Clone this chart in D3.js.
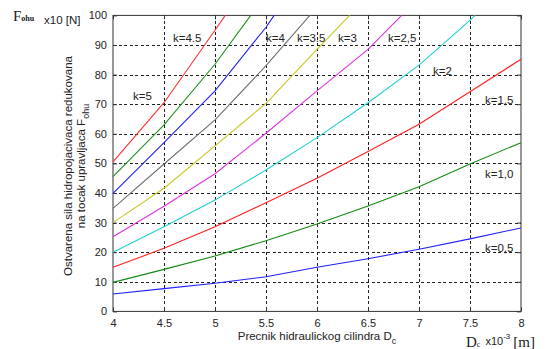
<!DOCTYPE html>
<html>
<head>
<meta charset="utf-8">
<script src="https://cdn.jsdelivr.net/npm/d3@7"></script>
<style>
  body { margin: 0; background: #fff; }
  text { font-family: "Liberation Sans", Arial, sans-serif; fill: #222; }
  .serif { font-family: "Liberation Serif", "Times New Roman", serif; }
</style>
</head>
<body>
<div id="chart"></div>
<script>
// values (D x10^-3 m, F x10 N)
const xTicks = [4, 4.5, 5, 5.5, 6, 6.5, 7, 7.5, 8];
const yTicks = [0, 10, 20, 30, 40, 50, 60, 70, 80, 90, 100];

const dcFull = [4, 4.5, 5, 5.5, 6, 6.5, 7, 7.5, 8];
const fK05 = [5.9, 7.7, 9.5, 11.7, 14.9, 17.8, 21.0, 24.5, 28.2];
const fK10 = [9.8, 14.2, 18.7, 23.9, 29.5, 35.6, 42.1, 49.8, 57.0];
const fK15 = [14.9, 21.3, 28.6, 36.7, 45.0, 54.0, 63.2, 74.2, 85.2];

const dcK2 = [4, 4.5, 5, 5.5, 6, 6.5, 7, 7.5, 7.55];
const fK2 = [20.0, 28.6, 37.6, 47.8, 58.7, 70.5, 83.2, 98.3, 100];

const dcK25 = [4, 4.5, 5, 5.5, 6, 6.5, 6.83];
const fK25 = [25.2, 35.5, 46.5, 60.2, 74.5, 88.5, 100];

const dcK3 = [4, 4.5, 5, 5.5, 6, 6.32];
const fK3 = [30.0, 41.6, 55.9, 70.3, 88.5, 100];

const dcK35 = [4, 4.5, 5, 5.5, 5.93];
const fK35 = [34.8, 49.8, 64.7, 83.0, 100];

const dcK4 = [4, 4.5, 5, 5.5, 5.58];
const fK4 = [39.9, 57.0, 74.5, 96.0, 100];

const dcK45 = [4, 4.5, 5, 5.35];
const fK45 = [45.5, 63.0, 83.5, 100];

const dcK5 = [4, 4.5, 5, 5.1];
const fK5 = [50.5, 70.5, 95.0, 100];

const curves = [
    { x: dcFull, y: fK05, color: "#2020ff" },
    { x: dcFull, y: fK10, color: "#138a13" },
    { x: dcFull, y: fK15, color: "#ff2020" },
    { x: dcK2, y: fK2, color: "#20d0d0" },
    { x: dcK25, y: fK25, color: "#e030e0" },
    { x: dcK3, y: fK3, color: "#c8c820" },
    { x: dcK35, y: fK35, color: "#707070" },
    { x: dcK4, y: fK4, color: "#2020ff" },
    { x: dcK45, y: fK45, color: "#209020" },
    { x: dcK5, y: fK5, color: "#ff3030" },
];

// curve labels, placed in data coordinates
const labelText = ["k=5", "k=4.5", "k=4", "k=3.5", "k=3", "k=2,5", "k=2", "k=1,5", "k=1,0", "k=0,5"];
const labelDc = [4.196, 4.588, 5.5, 5.804, 6.206, 6.696, 7.137, 7.647, 7.647, 7.647];
const labelF = [71.4, 91.0, 91.0, 91.0, 91.0, 91.0, 79.9, 70.1, 45.1, 20.1];

const width = 547, height = 349;
const x = d3.scaleLinear().domain([4, 8]).range([113, 521]);
const y = d3.scaleLinear().domain([0, 100]).range([311.4, 15.4]);

const svg = d3.select("#chart").append("svg")
    .attr("width", width).attr("height", height)
    .attr("viewBox", [0, 0, width, height]);

// grid
const grid = svg.append("g")
    .attr("stroke", "#222")
    .attr("stroke-width", 1)
    .attr("stroke-dasharray", "3,2.5")
    .attr("shape-rendering", "crispEdges");
grid.selectAll("line.v").data(xTicks.slice(1, -1)).join("line")
    .attr("x1", d => Math.round(x(d)) + 0.5).attr("x2", d => Math.round(x(d)) + 0.5)
    .attr("y1", y(100)).attr("y2", y(0));
grid.selectAll("line.h").data(yTicks.slice(1, -1)).join("line")
    .attr("class", "h")
    .attr("x1", x(4)).attr("x2", x(8))
    .attr("y1", d => Math.round(y(d)) + 0.5).attr("y2", d => Math.round(y(d)) + 0.5);

// axes (ticks inward on all sides)
const tickLen = 4;
svg.append("g").attr("transform", `translate(0,${y(0)})`)
    .call(d3.axisBottom(x).tickValues(xTicks).tickSize(-tickLen).tickPadding(8).tickFormat(d3.format("")))
    .call(g => g.select(".domain").remove());
svg.append("g").attr("transform", `translate(0,${y(100)})`)
    .call(d3.axisTop(x).tickValues(xTicks).tickSize(-tickLen).tickFormat(""))
    .call(g => g.select(".domain").remove());
svg.append("g").attr("transform", `translate(${x(4)},0)`)
    .call(d3.axisLeft(y).tickValues(yTicks).tickSize(-tickLen).tickPadding(6))
    .call(g => g.select(".domain").remove());
svg.append("g").attr("transform", `translate(${x(8)},0)`)
    .call(d3.axisRight(y).tickValues(yTicks).tickSize(-tickLen).tickFormat(""))
    .call(g => g.select(".domain").remove());
svg.selectAll(".tick line").attr("stroke", "#333");
svg.selectAll(".tick text")
    .style("font-family", "'Liberation Sans', Arial, sans-serif")
    .style("font-size", "11px").attr("fill", "#222");

// frame
svg.append("rect")
    .attr("x", x(4)).attr("y", y(100))
    .attr("width", x(8) - x(4)).attr("height", y(0) - y(100))
    .attr("fill", "none").attr("stroke", "#333").attr("stroke-width", 1);

// curves
const line = d3.line().x(d => x(d[0])).y(d => y(d[1]));
svg.append("g").attr("fill", "none").attr("stroke-width", 1.1)
    .selectAll("path")
    .data(curves)
    .join("path")
    .attr("stroke", d => d.color)
    .attr("d", d => line(d3.zip(d.x, d.y)));

// curve labels
svg.append("g")
    .selectAll("text")
    .data(labelText)
    .join("text")
    .attr("x", (d, i) => x(labelDc[i]))
    .attr("y", (d, i) => y(labelF[i]))
    .attr("font-size", 11.5)
    .text(d => d);

// top-left unit label
const fl = svg.append("text").attr("x", 13).attr("y", 21);
fl.append("tspan").attr("class", "serif").attr("font-size", 15).text("F");
fl.append("tspan").attr("class", "serif").attr("font-size", 8).attr("font-weight", "bold").text("ohu");
svg.append("text").attr("x", 44).attr("y", 24).attr("font-size", 11.5).text("x10 [N]");

// bottom-right unit label
const dl = svg.append("text").attr("x", 466).attr("y", 347);
dl.append("tspan").attr("class", "serif").attr("font-size", 15).text("D");
dl.append("tspan").attr("class", "serif").attr("font-size", 8).text("c");
dl.append("tspan").attr("dx", 5).attr("dy", -2).attr("font-size", 11).text("x10");
dl.append("tspan").attr("dy", -6).attr("font-size", 8).text("-3");
dl.append("tspan").attr("class", "serif").attr("dx", 3).attr("dy", 8).attr("font-size", 15).text("[m]");

// x axis title
const xt = svg.append("text").attr("x", 317).attr("y", 340)
    .attr("text-anchor", "middle").attr("font-size", 11.5);
xt.append("tspan").text("Precnik hidraulickog cilindra D");
xt.append("tspan").attr("dy", 4).attr("font-size", 9).text("c");

// y axis title (two lines, rotated)
const yt = svg.append("g").attr("transform", "translate(72,166) rotate(-90)");
yt.append("text").attr("text-anchor", "middle").attr("y", 0).attr("font-size", 11.5)
    .text("Ostvarena sila hidropojacivaca redukovana");
const yt2 = yt.append("text").attr("text-anchor", "middle").attr("y", 13).attr("font-size", 11.5);
yt2.append("tspan").text("na tocak upravljaca F");
yt2.append("tspan").attr("dy", 4).attr("font-size", 9).text("ohu");
</script>
</body>
</html>
